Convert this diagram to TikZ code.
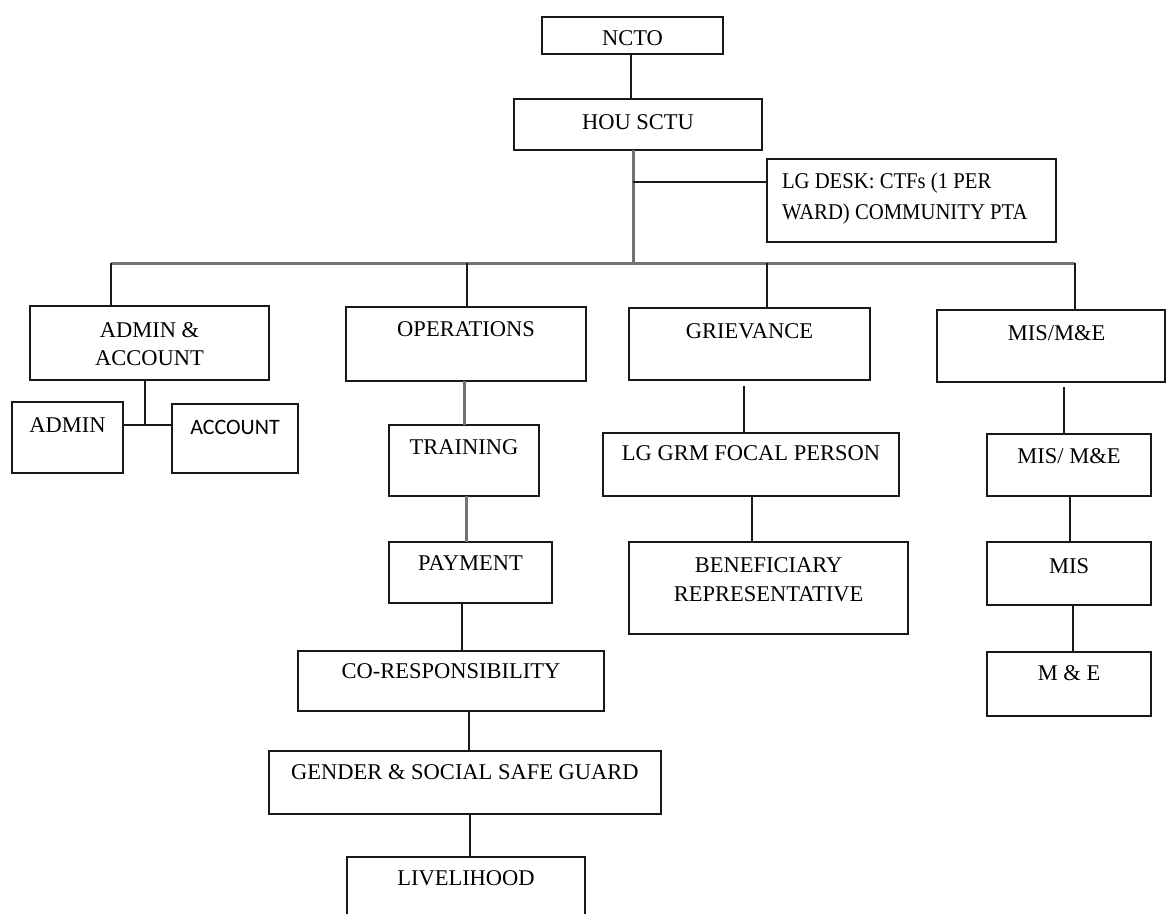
\documentclass[tikz,border=0pt]{standalone}
\usepackage{fontspec}
\setmainfont{Liberation Serif}
\newfontfamily\carl{Carlito}
\usepackage{graphicx}
\tikzset{
  box/.style={draw=black!90, line width=1.7pt, inner sep=0pt, outer sep=0pt, fill=white},
  txt/.style={inner sep=0pt, outer sep=0pt, font=\fontsize{22.5}{27}\selectfont, text=black},
  ln/.style={draw=black!90, line width=1.8pt},
  gln/.style={draw=black!55, line width=3pt},
}
\newcommand\bx[7]{%
  \node[box, minimum width={#4-#2}, minimum height={#5-#3}, anchor=north west] (#1) at (#2,#3) {};
  \node[txt, anchor=base] (#1t) at ([yshift=-#6pt]#1.north) {#7};}
\begin{document}
\begin{tikzpicture}[x=1pt,y=-1pt]
\clip (0,0) rectangle (1166,913);
\fill[white] (0,0) rectangle (1166,913);
% top
\bx{ncto}{542}{17}{723}{54}{28}{NCTO}
\bx{hou}{514}{99}{762}{150}{30}{HOU SCTU}
\node[box, minimum width=289, minimum height=83, anchor=north west] (lgd) at (767,159) {};
\node[txt, anchor=base west] (lgd1) at ([xshift=15pt,yshift=-29pt]lgd.north west) {\scalebox{0.92}[1]{LG DESK: CTFs (1 PER}};
\node[txt, anchor=base west] (lgd2) at ([yshift=-31pt]lgd1.base west) {\scalebox{0.92}[1]{WARD) COMMUNITY PTA}};
% column 1
\bx{adm}{30}{306}{269}{380}{31}{ADMIN \&}
\node[txt, anchor=base] (adm2) at ([yshift=-28pt]admt.base) {ACCOUNT};
\bx{admin}{12}{402}{123}{473}{30}{ADMIN}
\node[box, minimum width=126, minimum height=69, anchor=north west] (acct) at (172,404) {};
\node[txt, anchor=base, font=\carl\fontsize{22}{26}\selectfont] (acctt) at ([yshift=-30pt]acct.north) {ACCOUNT};
% column 2
\bx{ops}{346}{307}{586}{381}{29}{OPERATIONS}
\bx{trn}{389}{425}{539}{496}{29}{TRAINING}
\bx{pay}{389}{542}{552}{603}{28}{PAYMENT}
\bx{cor}{298}{651}{604}{711}{27}{CO-RESPONSIBILITY}
\bx{gen}{269}{751}{661}{814}{28}{GENDER \& SOCIAL SAFE GUARD}
\bx{liv}{347}{857}{585}{930}{28}{LIVELIHOOD}
% column 3
\bx{grv}{629}{308}{870}{380}{30}{GRIEVANCE}
\bx{lgg}{603}{433}{899}{496}{27}{LG GRM FOCAL PERSON}
\bx{ben}{629}{542}{908}{634}{30}{BENEFICIARY}
\node[txt, anchor=base] (ben2) at ([yshift=-29pt]bent.base) {REPRESENTATIVE};
% column 4
\node[box, minimum width=228, minimum height=72, anchor=north west] (mis) at (937,310) {};
\node[txt, anchor=base] (mist) at ([xshift=5.5pt,yshift=-30pt]mis.north) {MIS/M\&E};
\bx{ms2}{987}{434}{1151}{496}{29}{MIS/ M\&E}
\bx{ms3}{987}{542}{1151}{605}{31}{MIS}
\bx{me}{987}{652}{1151}{716}{28}{M \& E}
% connectors
\coordinate (bus) at (633,263);
\coordinate (busL) at (111,263);
\coordinate (busR) at (1075,263);
\coordinate (d2) at (467,263);
\coordinate (d3) at (767,263);
\draw[ln] ([xshift=-1.5pt]ncto.south) coordinate (c1) -- (c1 |- hou.north);
\draw[gln] (bus |- hou.south) -- (bus);
\coordinate (lgin) at ([yshift=18.5pt]lgd.west);
\draw[ln] (lgin) -- (lgin -| bus);
\draw[gln] (busL) -- (busR);
\draw[ln] (busL) -- (busL |- adm.north);
\draw[ln] (d2) -- (d2 |- ops.north);
\draw[ln] (d3) -- (d3 |- grv.north);
\draw[ln] (busR) -- (busR |- mis.north);
% admin
\draw[ln] ([xshift=-4.5pt]adm.south) coordinate (aj0) -- ([yshift=-45pt]aj0) coordinate (aj);
\draw[ln] (admin.east |- aj) -- (acct.west |- aj);
% operations
\draw[gln] ([xshift=-2pt]ops.south) coordinate (c3) -- (c3 |- trn.north);
\draw[gln] ([xshift=2pt]trn.south) coordinate (c4) -- (c4 |- pay.north);
\draw[ln] ([xshift=-8.5pt]pay.south) coordinate (c5) -- (c5 |- cor.north);
\draw[ln] ([xshift=18pt]cor.south) coordinate (c6) -- (c6 |- gen.north);
\draw[ln] ([xshift=5pt]gen.south) coordinate (c7) -- (c7 |- liv.north);
% grievance
\draw[ln] ([xshift=-5.5pt,yshift=-6pt]grv.south) coordinate (c8) -- (c8 |- lgg.north);
\draw[ln] ([xshift=1pt]lgg.south) coordinate (c9) -- (c9 |- ben.north);
% mis
\draw[ln] ([xshift=13pt,yshift=-5pt]mis.south) coordinate (c10) -- (c10 |- ms2.north);
\draw[ln] ([xshift=1pt]ms2.south) coordinate (c11) -- (c11 |- ms3.north);
\draw[ln] ([xshift=4pt]ms3.south) coordinate (c12) -- (c12 |- me.north);
\end{tikzpicture}
\end{document}
